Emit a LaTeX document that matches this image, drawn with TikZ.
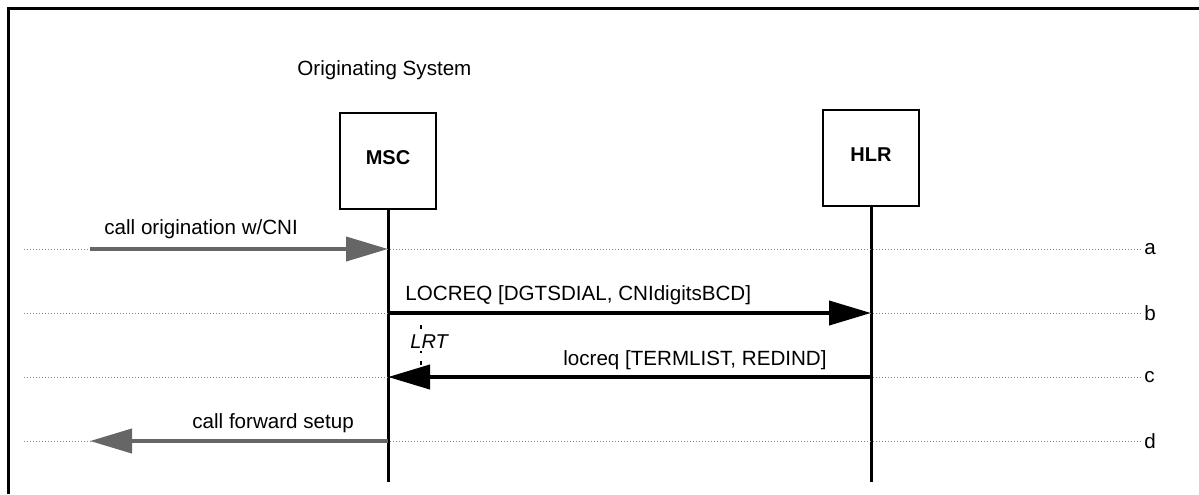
\documentclass[tikz,border=0pt]{standalone}
\usepackage{fontspec}
\setmainfont{Liberation Sans}
\usepackage{tikz}
\usetikzlibrary{positioning}
\usetikzlibrary{arrows.meta}
\definecolor{msggray}{rgb}{0.40,0.40,0.40}
\tikzset{
entity/.style={rectangle, draw, line width=1pt, minimum size=48pt, inner sep=0pt, text height=7.4pt, text depth=4pt, font=\bfseries},
lifeline/.style={line width=1.5pt},
timeline/.style={densely dotted, color=gray, line width=0.5pt},
msg/.style={line width=2pt, -{Triangle[length=21pt,width=12pt]}},
ext_msg/.style={msg, color=msggray},
msg_label/.style={inner sep=0pt, anchor=base west},
tick_label/.style={inner sep=1pt, anchor=west},
timer/.style={inner sep=1.5pt, fill=white, font=\itshape, anchor=base west}
}

\begin{document}
\begin{tikzpicture}[x=0.5pt, y=-0.5pt, every node/.style={font=\fontsize{10.3}{12}\selectfont}]
    \useasboundingbox (0,0) rectangle (1199,494);
    \draw[line width=1.5pt] (8,494) -- (8,8) -- (1199,8);
    \node[msg_label] (system) at (297,75) {Originating System};
    % entities and lifelines
    \node[entity] (msc) at (388,161) {MSC};
    \node[entity] (hlr) at (871,158) {HLR};
    \coordinate (msc_end) at (388,482);
    \coordinate (hlr_end) at (871,482);
    \draw[lifeline] (msc) -- (msc_end);
    \draw[lifeline] (hlr) -- (hlr_end);
    % time points
    \node[tick_label] (a) at (1142,249) {a};
    \node[tick_label] (b) at (1142,313) {b};
    \node[tick_label] (c) at (1142,377) {c};
    \node[tick_label] (d) at (1142,441) {d};
    \draw[timeline] (24,249) -- (a);
    \draw[timeline] (24,313) -- (b);
    \draw[timeline] (24,377) -- (c);
    \draw[timeline] (24,441) -- (d);
    \coordinate (env_a) at (90,249);
    \coordinate (env_d) at (90,441);
    \coordinate (msc_a) at (msc.south |- a);
    \coordinate (msc_b) at (msc.south |- b);
    \coordinate (msc_c) at (msc.south |- c);
    \coordinate (msc_d) at (msc.south |- d);
    \coordinate (hlr_b) at (hlr.south |- b);
    \coordinate (hlr_c) at (hlr.south |- c);
    % timer
    \coordinate (lrt_top) at (421,325);
    \coordinate (lrt_bottom) at (421,378);
    \draw[dash pattern=on 2pt off 4pt, line width=0.6pt] (lrt_top) -- (lrt_bottom);
    \node[timer] (lrt) at (407,348) {LRT};
    % messages
    \draw[ext_msg] (env_a) -- (msc_a);
    \node[msg_label] (origination) at (104,234) {call origination w/CNI};
    \draw[msg] (msc_b) -- (hlr_b);
    \node[msg_label] (locreq_inv) at (405,300) {LOCREQ [DGTSDIAL, CNIdigitsBCD]};
    \draw[msg] (hlr_c) -- (msc_c);
    \node[msg_label, anchor=base east] (locreq_rr) at (827,365) {locreq [TERMLIST, REDIND]};
    \draw[ext_msg] (msc_d) -- (env_d);
    \node[msg_label] (forward) at (192,428) {call forward setup};
\end{tikzpicture}
\end{document}
